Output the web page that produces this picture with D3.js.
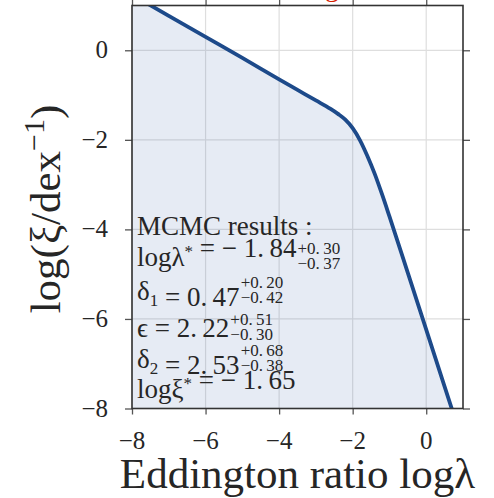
<!DOCTYPE html>
<html><head><meta charset="utf-8">
<script src="https://cdn.jsdelivr.net/npm/d3@7"></script>
<style>html,body{margin:0;padding:0;background:#fff;}svg{display:block;}</style>
</head><body>
<script>
const xTicks = [-8, -6, -4, -2, 0];
const yTicks = [-8, -6, -4, -2, 0];
const logLambda = [-8, -7, -6, -5, -4, -3.5, -3.0, -2.6, -2.4, -2.2, -2.0, -1.8, -1.6, -1.4, -1.2, -1.0, -0.5, 0, 0.5, 1];
const logXi     = [1.24, 0.77, 0.30, -0.17, -0.65, -0.885, -1.12, -1.31, -1.42, -1.55, -1.74, -2.01, -2.36, -2.76, -3.22, -3.71, -4.97, -6.24, -7.51, -8.78];
const mcmcLines = [
  {main: "MCMC results :"},
  {main: "logλ", star: true, rest: " = − 1.\u200984", sup: "+0.\u200930", sub: "−0.\u200937"},
  {main: "δ", subIdx: "1", rest: " = 0.\u200947", sup: "+0.\u200920", sub: "−0.\u200942"},
  {main: "ϵ", rest: " = 2.\u200922", sup: "+0.\u200951", sub: "−0.\u200930"},
  {main: "δ", subIdx: "2", rest: " = 2.\u200953", sup: "+0.\u200968", sub: "−0.\u200938"},
  {main: "logξ", star: true, rest: " = − 1.\u200965"}
];

const W = 494, H = 498;
const font = "'Liberation Serif', 'Times New Roman', serif";
const svg = d3.select("body").append("svg").attr("width", W).attr("height", H)
  .style("font-family", font);

const x = d3.scaleLinear().domain([-8, 1]).range([132, 463]);
const y = d3.scaleLinear().domain([-8, 1]).range([408.5, 5.5]);
const [x0, x1] = x.range(); const [y0, y1] = [y(1), y(-8)];

svg.append("defs").append("clipPath").attr("id", "clip")
  .append("rect").attr("x", x0).attr("y", y0).attr("width", x1 - x0).attr("height", y1 - y0);

// red fragment of a title from a panel above (cut off by the frame edge)
svg.append("text").attr("x", 332).attr("y", -4).attr("text-anchor", "middle")
  .attr("font-size", 28).attr("fill", "#d62000").text("g");

// grid
const grid = svg.append("g");
grid.selectAll(".gx").data(xTicks).join("line")
  .attr("x1", d => x(d)).attr("x2", d => x(d)).attr("y1", y0).attr("y2", y1)
  .attr("stroke", "#dedede").attr("stroke-width", 1.2);
grid.selectAll(".gy").data(yTicks).join("line")
  .attr("y1", d => y(d)).attr("y2", d => y(d)).attr("x1", x0).attr("x2", x1)
  .attr("stroke", "#dedede").attr("stroke-width", 1.2);

const pts = logLambda.map((v, i) => [v, logXi[i]]);
const plot = svg.append("g").attr("clip-path", "url(#clip)");
plot.append("path").datum(pts)
  .attr("d", d3.area().x(d => x(d[0])).y0(y(-8)).y1(d => y(d[1])).curve(d3.curveMonotoneX))
  .attr("fill", "#4c72b0").attr("fill-opacity", 0.14);
plot.append("path").datum(pts)
  .attr("d", d3.line().x(d => x(d[0])).y(d => y(d[1])).curve(d3.curveMonotoneX))
  .attr("fill", "none").attr("stroke", "#1d4a8a").attr("stroke-width", 3.8)
  .attr("stroke-linejoin", "round");

// axes ticks (outward, all four sides)
const tickStyle = g => { g.select(".domain").remove(); g.selectAll("line").attr("stroke", "#555").attr("stroke-width", 1.3); g.selectAll("text").remove(); };
svg.append("g").attr("transform", `translate(0,${y1})`).call(d3.axisBottom(x).tickValues(xTicks).tickSize(6)).call(tickStyle);
svg.append("g").attr("transform", `translate(0,${y0})`).call(d3.axisTop(x).tickValues(xTicks).tickSize(6)).call(tickStyle);
svg.append("g").attr("transform", `translate(${x0},0)`).call(d3.axisLeft(y).tickValues(yTicks).tickSize(7)).call(tickStyle);
svg.append("g").attr("transform", `translate(${x1},0)`).call(d3.axisRight(y).tickValues(yTicks).tickSize(7)).call(tickStyle);

// frame
svg.append("rect").attr("x", x0).attr("y", y0).attr("width", x1 - x0).attr("height", y1 - y0)
  .attr("fill", "none").attr("stroke", "#333").attr("stroke-width", 1.6);

const fmt = d => (d < 0 ? "−" : "") + Math.abs(d);
svg.selectAll(".xl").data(xTicks).join("text")
  .attr("x", d => x(d)).attr("y", 449).attr("text-anchor", "middle")
  .attr("font-size", 25).attr("fill", "#262626").text(fmt);
svg.selectAll(".yl").data(yTicks).join("text")
  .attr("x", 108).attr("y", d => y(d) + 8).attr("text-anchor", "end")
  .attr("font-size", 25).attr("fill", "#262626").text(fmt);

// axis labels
svg.append("text").attr("x", (x0 + x1) / 2).attr("y", 488).attr("text-anchor", "middle")
  .attr("font-size", 43).attr("fill", "#262626").text("Eddington ratio logλ");
const yl = svg.append("text").attr("transform", `translate(60,${(y0 + y1) / 2 + 2}) rotate(-90)`)
  .attr("text-anchor", "middle").attr("font-size", 43).attr("fill", "#262626");
yl.append("tspan").text("log(ξ/dex");
yl.append("tspan").attr("dy", -16).attr("font-size", 30).text("−1");
yl.append("tspan").attr("dy", 16).text(")");

// MCMC annotation
const baselines = [235, 266, 300, 337, 368, 398];
mcmcLines.forEach((L, i) => {
  const t = svg.append("text").attr("x", 137).attr("y", baselines[i])
    .attr("font-size", 27).attr("fill", "#262626");
  t.append("tspan").text(L.main);
  if (L.star) { t.append("tspan").attr("dy", -9).attr("font-size", 17).text("*"); t.append("tspan").attr("dy", 9).text(""); }
  if (L.subIdx) { t.append("tspan").attr("dy", 6).attr("font-size", 17).text(L.subIdx); t.append("tspan").attr("dy", -6).text(""); }
  if (L.rest) t.append("tspan").text(L.rest);
  if (L.sup) {
    const w = t.node().getComputedTextLength();
    svg.append("text").attr("x", 137 + w + 1).attr("y", baselines[i] - 12)
      .attr("font-size", 17).attr("fill", "#262626").text(L.sup);
    svg.append("text").attr("x", 137 + w + 1).attr("y", baselines[i] + 3)
      .attr("font-size", 17).attr("fill", "#262626").text(L.sub);
  }
});
</script>
</body></html>
